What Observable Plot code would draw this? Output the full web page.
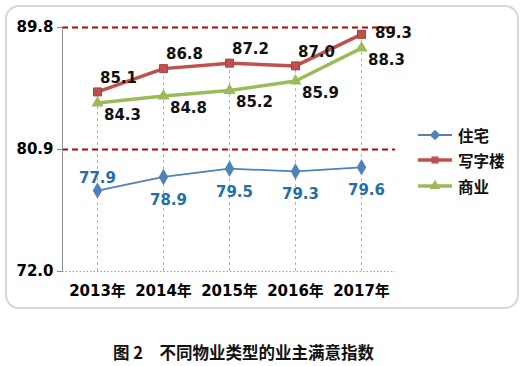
<!DOCTYPE html>
<html><head><meta charset="utf-8">
<script src="https://cdn.jsdelivr.net/npm/d3@7"></script>
<script src="https://cdn.jsdelivr.net/npm/@observablehq/plot@0.6"></script>
<style>
body{margin:0;background:#fff;}
#wrap{position:relative;width:523px;height:366px;overflow:hidden;background:#fff;font-family:"DejaVu Sans","Noto Sans CJK SC",sans-serif;}
#border{position:absolute;left:5px;top:5px;width:514px;height:304px;box-sizing:border-box;border:2px solid #d6d6d6;border-radius:14px;pointer-events:none;}
#chart{position:absolute;left:0;top:0;}
#legend{position:absolute;left:0;top:0;width:523px;height:310px;}
.li{position:absolute;display:flex;align-items:center;white-space:nowrap;width:100px;font-family:"Noto Sans CJK SC",sans-serif;font-weight:bold;font-size:15.5px;color:#111;}
#caption{position:absolute;left:113px;top:340px;font-family:"Noto Sans CJK SC",sans-serif;font-weight:bold;font-size:16.5px;color:#111;white-space:pre;}
</style>
</head><body>
<div id="wrap"><div id="chart"></div><div id="legend"></div><div id="border"></div><div id="caption"></div></div>
<script>
const years = ["2013年","2014年","2015年","2016年","2017年"];
const seriesNames = ["住宅","写字楼","商业"];
const zhuzhai = [77.9,78.9,79.5,79.3,79.6];
const xiezilou = [85.1,86.8,87.2,87.0,89.3];
const shangye = [84.3,84.8,85.2,85.9,88.3];
const yTicks = [72.0, 80.9, 89.8];
const captionText = "图 2　不同物业类型的业主满意指数";

const colors = {"住宅":"#4f81bd","写字楼":"#c0504d","商业":"#9bbb59"};
const widths = {"住宅":1.8,"写字楼":3.5,"商业":3.5};
const symbols = {"住宅":"diamond","写字楼":"square","商业":"triangle"};
const seriesVals = [zhuzhai, xiezilou, shangye];
const rows = [];
seriesNames.forEach((s,k)=>seriesVals[k].forEach((v,i)=>rows.push({series:s,year:years[i],value:v,i})));
const drops = years.map((y,i)=>({year:y, top:Math.max(zhuzhai[i],xiezilou[i],shangye[i])}));
const blue = rows.filter(d=>d.series==="住宅");
const red = rows.filter(d=>d.series==="写字楼");
const green = rows.filter(d=>d.series==="商业");
const fmt = d=>d.toFixed(1);

const chart = Plot.plot({
  width:523, height:310,
  marginLeft:62, marginRight:128, marginTop:27, marginBottom:39,
  style:{fontFamily:"'DejaVu Sans','Noto Sans CJK SC',sans-serif",fontSize:"15px",fontWeight:"bold",color:"#000",background:"transparent"},
  x:{type:"point", domain:years, padding:0.5},
  y:{domain:[yTicks[0], yTicks[2]]},
  marks:[
    Plot.ruleX(drops,{x:"year", y1:yTicks[0], y2:"top", stroke:"#b5b5b5", strokeDasharray:"3,3", strokeWidth:1}),
    Plot.ruleY([yTicks[0]],{stroke:"#a0a0a0", strokeDasharray:"1.5,2", strokeWidth:1}),
    Plot.ruleY(yTicks.slice(1),{stroke:"#c00000", strokeDasharray:"6,4", strokeWidth:2}),
    Plot.frame({anchor:"left", stroke:"#8c8c8c"}),
    Plot.axisY({ticks:yTicks, tickFormat:fmt, tickSize:5, tickPadding:4, stroke:"#8c8c8c", label:null, fontSize:15, fontWeight:"bold"}),
    Plot.axisX({tickSize:0, tickPadding:14, label:null, fontSize:15, fontWeight:"bold"}),
    ...seriesNames.map(s=>Plot.line(rows.filter(d=>d.series===s),{x:"year", y:"value", stroke:colors[s], strokeWidth:widths[s]})),
    Plot.dot(blue,{x:"year", y:"value", symbol:"diamond", r:5, fill:colors["住宅"]}),
    Plot.dot(red,{x:"year", y:"value", symbol:"square", r:4.5, fill:"#c0504d", stroke:"#a8403d", strokeWidth:1}),
    Plot.dot(green,{x:"year", y:"value", symbol:"triangle", r:4.5, fill:colors["商业"]}),
    Plot.text(blue.filter(d=>d.i===0),{x:"year", y:"value", text:d=>fmt(d.value), dy:-12, fill:"#1f6fa8"}),
    Plot.text(blue.filter(d=>d.i>0),{x:"year", y:"value", text:d=>fmt(d.value), dx:5, dy:23, fill:"#1f6fa8"}),
    Plot.text(red.filter(d=>d.i<4),{x:"year", y:"value", text:d=>fmt(d.value), dx:21, dy:-14, fill:"#111"}),
    Plot.text(red.filter(d=>d.i===4),{x:"year", y:"value", text:d=>fmt(d.value), dx:32, dy:-1, fill:"#111"}),
    Plot.text(green,{x:"year", y:"value", text:d=>fmt(d.value), dx:25, dy:12, fill:"#111"})
  ]
});
document.getElementById("chart").appendChild(chart);

const legendTops = [135,160,186];
const leg = d3.select("#legend");
seriesNames.forEach((s,k)=>{
  const item = leg.append("div").attr("class","li").style("left","418px").style("top",(legendTops[k]-11)+"px").style("height","22px");
  const svg = item.append("svg").attr("width",36).attr("height",14).style("flex","none");
  svg.append("line").attr("x1",0).attr("x2",34).attr("y1",7).attr("y2",7).attr("stroke",colors[s]).attr("stroke-width",widths[s]);
  const sym = symbols[s]==="diamond"?d3.symbolDiamond2:symbols[s]==="square"?d3.symbolSquare:d3.symbolTriangle;
  svg.append("path").attr("d",d3.symbol(sym, symbols[s]==="diamond"?70:50)()).attr("transform","translate(17,7)").attr("fill",colors[s]);
  item.append("span").style("margin-left","4px").text(s);
});
document.getElementById("caption").textContent = captionText;
</script>
</body></html>
